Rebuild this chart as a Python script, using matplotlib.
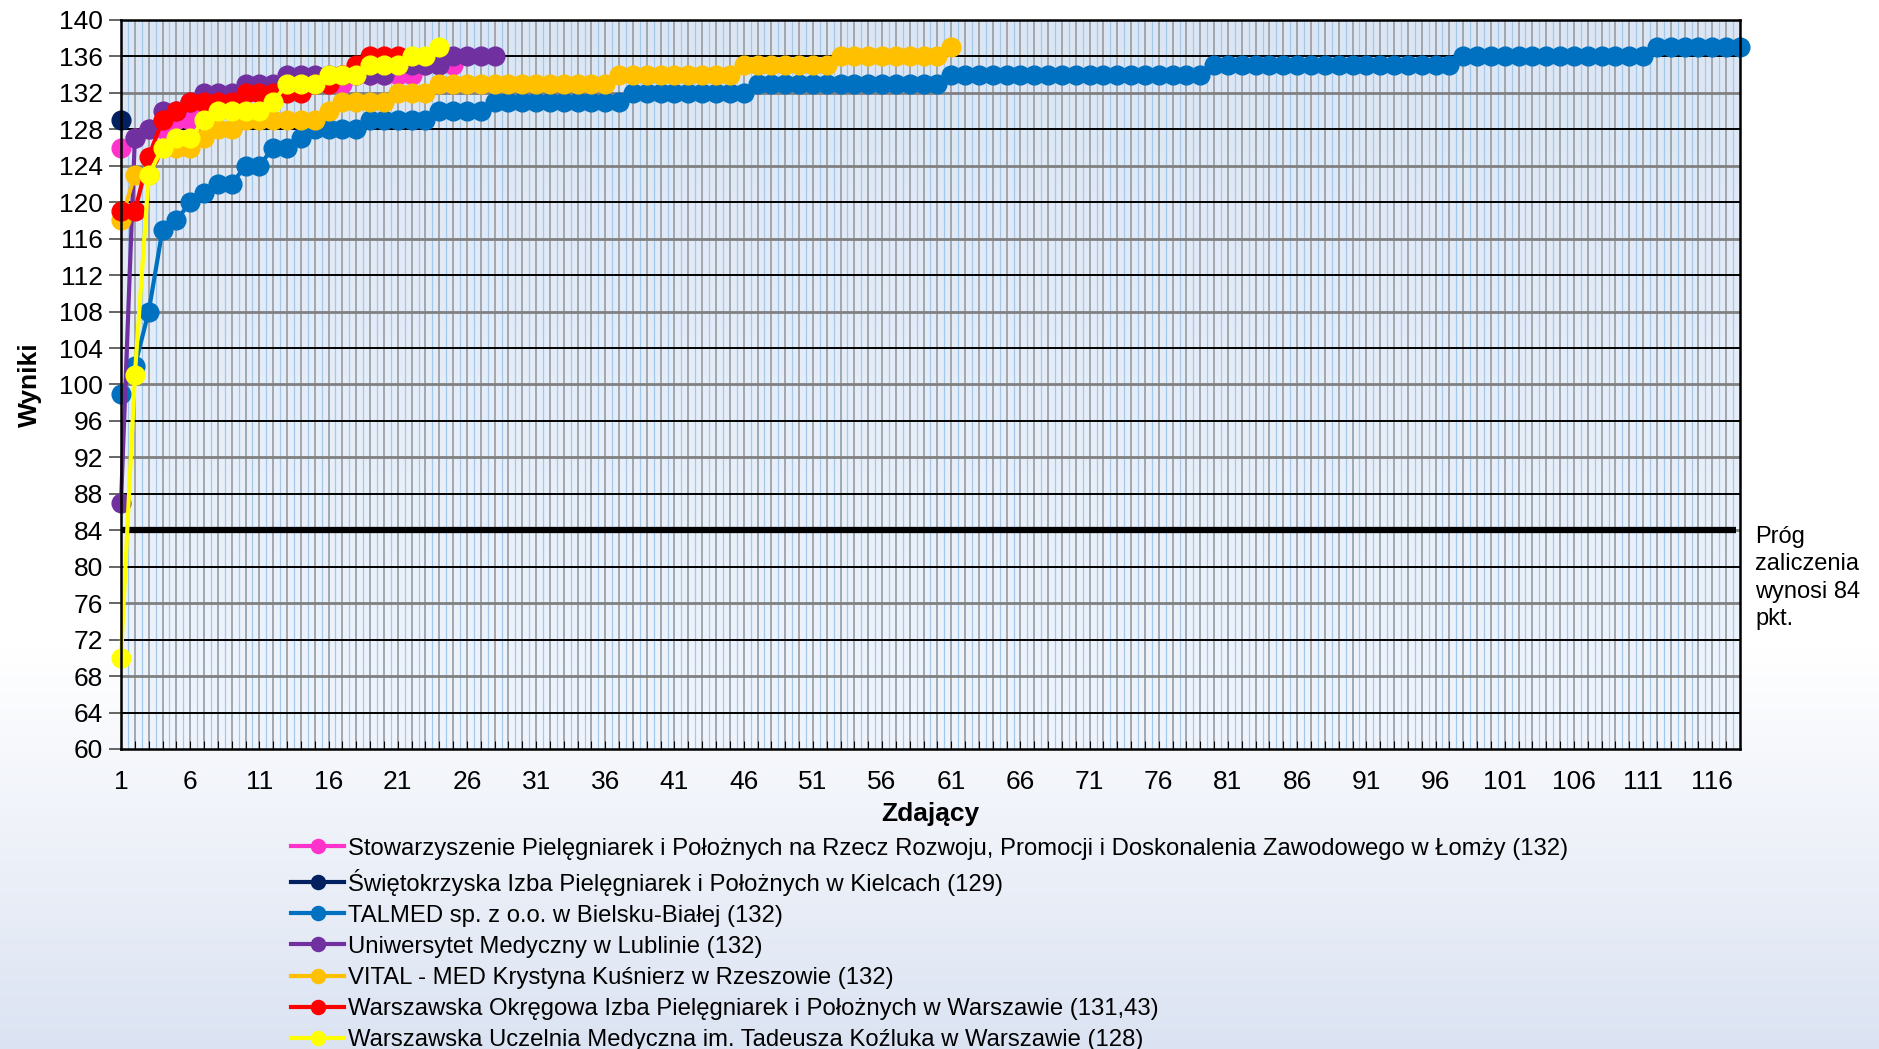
import numpy as np
import matplotlib.pyplot as plt

plt.rcParams['font.family'] = ['Liberation Sans', 'DejaVu Sans']

# wyniki uporządkowane rosnąco dla każdego ośrodka
lomza = [126, 127, 128, 128, 129, 129, 130, 131, 131, 132,
         132, 132, 133, 133, 133, 133, 133, 134, 134, 134,
         134, 134, 135, 135, 135]
kielce = [129]
talmed = [99, 102, 108, 117, 118, 120, 121, 122, 122, 124,
          124, 126, 126, 127, 128, 128, 128, 128, 129, 129,
          129, 129, 129, 130, 130, 130, 130, 131, 131, 131,
          131, 131, 131, 131, 131, 131, 131, 132, 132, 132,
          132, 132, 132, 132, 132, 132, 133, 133, 133, 133,
          133, 133, 133, 133, 133, 133, 133, 133, 133, 133,
          134, 134, 134, 134, 134, 134, 134, 134, 134, 134,
          134, 134, 134, 134, 134, 134, 134, 134, 134, 135,
          135, 135, 135, 135, 135, 135, 135, 135, 135, 135,
          135, 135, 135, 135, 135, 135, 135, 136, 136, 136,
          136, 136, 136, 136, 136, 136, 136, 136, 136, 136,
          136, 137, 137, 137, 137, 137, 137, 137]
lublin = [87, 127, 128, 130, 130, 131, 132, 132, 132, 133,
          133, 133, 134, 134, 134, 134, 134, 134, 134, 134,
          135, 135, 135, 135, 136, 136, 136, 136]
vital = [118, 123, 123, 126, 126, 126, 127, 128, 128, 129,
         129, 129, 129, 129, 129, 130, 131, 131, 131, 131,
         132, 132, 132, 133, 133, 133, 133, 133, 133, 133,
         133, 133, 133, 133, 133, 133, 134, 134, 134, 134,
         134, 134, 134, 134, 134, 135, 135, 135, 135, 135,
         135, 135, 136, 136, 136, 136, 136, 136, 136, 136,
         137]
woipip = [119, 119, 125, 129, 130, 131, 131, 131, 131, 132,
          132, 132, 132, 132, 133, 133, 134, 135, 136, 136,
          136]
wum = [70, 101, 123, 126, 127, 127, 129, 130, 130, 130,
       130, 131, 133, 133, 133, 134, 134, 134, 135, 135,
       135, 136, 136, 137]

labels = [
    "Stowarzyszenie Pielęgniarek i Położnych na Rzecz Rozwoju, Promocji i Doskonalenia Zawodowego w Łomży (132)",
    "Świętokrzyska Izba Pielęgniarek i Położnych w Kielcach (129)",
    "TALMED sp. z o.o. w Bielsku-Białej (132)",
    "Uniwersytet Medyczny w Lublinie (132)",
    "VITAL - MED Krystyna Kuśnierz w Rzeszowie (132)",
    "Warszawska Okręgowa Izba Pielęgniarek i Położnych w Warszawie (131,43)",
    "Warszawska Uczelnia Medyczna im. Tadeusza Koźluka w Warszawie (128)",
]
series = [lomza, kielce, talmed, lublin, vital, woipip, wum]
colors = ['#ff33cc', '#002060', '#0070c0', '#7030a0', '#ffc000', '#ff0000', '#ffff00']
threshold = 84

fig = plt.figure(figsize=(18.79, 10.49), dpi=100)

# tło figury: biel przechodząca w jasny błękit na dole
bg = fig.add_axes([0, 0, 1, 1], zorder=-10)
grad = np.ones((200, 1, 3))
t = np.clip((np.linspace(0, 1, 200) - 0.62) / 0.38, 0, 1)
for i, c in enumerate((0.86, 0.89, 0.95)):
    grad[:, 0, i] = 1 - (1 - c) * t
bg.imshow(grad, aspect='auto', extent=[0, 1, 0, 1])
bg.axis('off')

ax = fig.add_axes([0.0644, 0.286, 0.8616, 0.695])
ax.set_xlim(1, 118)
ax.set_ylim(60, 140)

# tło obszaru wykresu
pg = np.ones((100, 1, 3))
top_c = np.array([0.86, 0.90, 0.955])
bot_c = np.array([0.94, 0.96, 0.99])
s = np.linspace(0, 1, 100)[:, None]
pg[:, 0, :] = top_c * (1 - s) + bot_c * s
ax.imshow(pg, aspect='auto', extent=[1, 118, 60, 140], zorder=0)

# siatka
ax.vlines(np.arange(1.5, 118, 1), 60, 140, color='#a3c8ea', lw=0.9, zorder=1)
ax.vlines(np.arange(2, 118), 60, 140, color='#9ca2a9', lw=1.3, zorder=1)
ax.hlines(np.arange(68, 140, 8), 1, 118, color='#808080', lw=2.0, zorder=1.5)
ax.hlines(np.arange(64, 140, 8), 1, 118, color='black', lw=1.4, zorder=1.5)

ax.plot([1, 117.7], [threshold, threshold], color='black', lw=4.5, zorder=2,
        solid_capstyle='butt')

for vals, col, lab in zip(series, colors, labels):
    x = np.arange(1, len(vals) + 1)
    ax.plot(x, vals, color=col, lw=3.0, marker='o', ms=13.5, label=lab,
            zorder=3, clip_on=False)

ax.set_yticks(np.arange(60, 141, 4))
ax.set_xticks(np.arange(1, 119))
ax.set_xticklabels([str(v) if (v - 1) % 5 == 0 else '' for v in range(1, 119)])
ax.tick_params(axis='y', labelsize=19, length=9, width=1.3, color='#595959', pad=4)
ax.tick_params(axis='x', labelsize=19, direction='in', length=6, width=0.8, pad=15)
for sp in ax.spines.values():
    sp.set_linewidth(1.8)
    sp.set_zorder(4)

ax.set_xlabel('Zdający', fontsize=19, fontweight='bold', labelpad=6)
ax.set_ylabel('Wyniki', fontsize=19, fontweight='bold', labelpad=12)

fig.text(0.934, 1 - 526 / 1049, 'Próg\nzaliczenia\nwynosi 84\npkt.',
         fontsize=17, va='top', ha='left', linespacing=1.32)

leg = fig.legend(loc='upper left', bbox_to_anchor=(0.150, 1 - 828 / 1049),
                 frameon=False, fontsize=17.2, handlelength=2.2, handletextpad=0.15,
                 labelspacing=0.38, borderaxespad=0, markerscale=0.75)

fig.savefig('out.png', dpi=100)
